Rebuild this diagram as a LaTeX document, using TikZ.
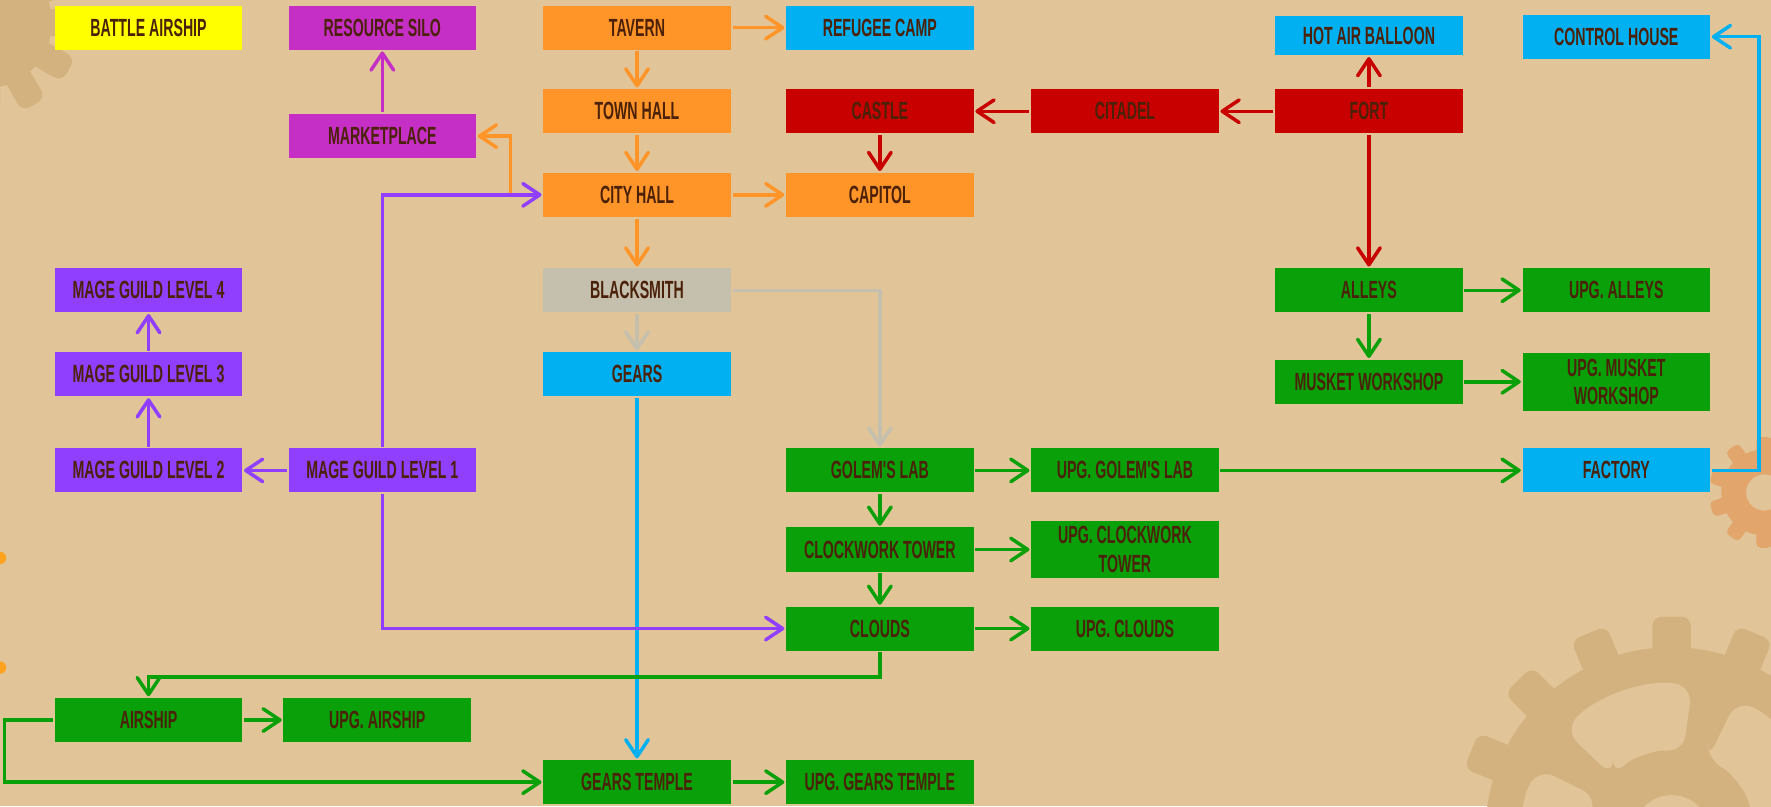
\documentclass[tikz,border=0pt]{standalone}
\usepackage{fontspec}
\newfontfamily\bldgfont{Liberation Sans}[FakeStretch=0.57]
\usetikzlibrary{arrows.meta, positioning}
\definecolor{parchment}{HTML}{E1C598}
\definecolor{gearshade}{HTML}{D3B27F}
\definecolor{gearorange}{HTML}{E2A56C}
\definecolor{dotorange}{HTML}{FFA21E}
\definecolor{bldgtext}{HTML}{4B2109}
\definecolor{yellowc}{HTML}{FFFF00}
\definecolor{magentac}{HTML}{C62FC6}
\definecolor{orangec}{HTML}{FF9428}
\definecolor{bluec}{HTML}{00B0F0}
\definecolor{redc}{HTML}{C80000}
\definecolor{grayc}{HTML}{C5BFAD}
\definecolor{purplec}{HTML}{8F3FFD}
\definecolor{greenc}{HTML}{09A00A}
\tikzset{
    techtree/.style={x=0.5pt, y=-0.5pt, line width=1.55pt,
        >={Straight Barb[length=7.5pt, width=10pt, round]}},
    bldg/.style={minimum width=83pt, minimum height=19.5pt, inner sep=1pt,
        align=center, text=bldgtext,
        font=\bldgfont\bfseries\fontsize{11}{12.5}\selectfont},
    % one style per building colour
    yellowbldg/.style={bldg, fill=yellowc},
    magentabldg/.style={bldg, fill=magentac},
    orangebldg/.style={bldg, fill=orangec},
    bluebldg/.style={bldg, fill=bluec},
    redbldg/.style={bldg, fill=redc},
    graybldg/.style={bldg, fill=grayc},
    purplebldg/.style={bldg, fill=purplec},
    greenbldg/.style={bldg, fill=greenc},
    tallbldg/.style={minimum height=25.5pt},
}

\begin{document}
\begin{tikzpicture}[techtree]
    \useasboundingbox (0,0) rectangle (1568,714);
    \fill[parchment] (0,0) rectangle (1568,714);

    % background gears
    \begin{scope}
        \clip (0,0) rectangle (1568,714);
        \begin{scope}[shift={(1480,738)}]
            \fill[gearshade] (0,0) circle (165);
            \foreach \a in {0,22.5,...,337.5}
                \fill[gearshade, rotate=\a, rounded corners=4pt] (-17,150) rectangle (17,192);
            \foreach \a in {0,72,...,288}
                \fill[parchment, rounded corners=8pt] (\a+8:72) -- (\a+8:132)
                    arc[start angle=\a+8, end angle=\a+62, radius=132]
                    -- (\a+62:72) arc[start angle=\a+62, end angle=\a+8, radius=72] -- cycle;
            \fill[parchment] (0,0) circle (34);
        \end{scope}
        \begin{scope}[shift={(-12,20)}]
            \fill[gearshade] (0,0) circle (58);
            \foreach \a in {0,30,...,330}
                \fill[gearshade, rotate=\a, rounded corners=4pt] (-12,50) rectangle (12,84);
        \end{scope}
        \begin{scope}[shift={(1562,436)}]
            \fill[gearorange] (0,0) circle (38);
            \foreach \a in {0,36,...,324}
                \fill[gearorange, rotate=\a, rounded corners=2pt] (-7,32) rectangle (7,49);
            \fill[parchment] (0,0) circle (16);
        \end{scope}
        \fill[dotorange] (0,494) circle (5.5);
        \fill[dotorange] (0,591) circle (5.5);
    \end{scope}

    % buildings
    \node[yellowbldg]  (battle)    at (131.5,24.5)  {BATTLE AIRSHIP};
    \node[magentabldg] (silo)      at (338.5,24.5)  {RESOURCE SILO};
    \node[magentabldg] (market)    at (338.5,120.5) {MARKETPLACE};
    \node[orangebldg]  (tavern)    at (564,24.5)    {TAVERN};
    \node[orangebldg]  (townhall)  at (564,98.5)    {TOWN HALL};
    \node[orangebldg]  (cityhall)  at (564,172.5)   {CITY HALL};
    \node[graybldg]    (smith)     at (564,257)     {BLACKSMITH};
    \node[bluebldg]    (gears)     at (564,331.5)   {GEARS};
    \node[bluebldg]    (refugee)   at (779,24.5)    {REFUGEE CAMP};
    \node[redbldg]     (castle)    at (779,98.5)    {CASTLE};
    \node[orangebldg]  (capitol)   at (779,172.5)   {CAPITOL};
    \node[redbldg]     (citadel)   at (996,98.5)    {CITADEL};
    \node[redbldg]     (fort)      at (1212,98.5)   {FORT};
    \node[bluebldg, minimum height=17.5pt] (balloon) at (1212,31.5) {HOT AIR BALLOON};
    \node[bluebldg]    (control)   at (1431,32.5)   {CONTROL HOUSE};

    \node[purplebldg]  (mage4)     at (131.5,257)   {MAGE GUILD LEVEL 4};
    \node[purplebldg]  (mage3)     at (131.5,331.5) {MAGE GUILD LEVEL 3};
    \node[purplebldg]  (mage2)     at (131.5,416.5) {MAGE GUILD LEVEL 2};
    \node[purplebldg]  (mage1)     at (338.5,416.5) {MAGE GUILD LEVEL 1};

    \node[greenbldg]   (alleys)    at (1212,257)    {ALLEYS};
    \node[greenbldg]   (upgalleys) at (1431,257)    {UPG. ALLEYS};
    \node[greenbldg]   (musket)    at (1212,338)    {MUSKET WORKSHOP};
    \node[greenbldg, tallbldg] (upgmusket) at (1431,338) {UPG. MUSKET\\WORKSHOP};
    \node[bluebldg]    (factory)   at (1431,416.5)  {FACTORY};

    \node[greenbldg]   (golem)     at (779,416.5)   {GOLEM'S LAB};
    \node[greenbldg]   (upggolem)  at (996,416.5)   {UPG. GOLEM'S LAB};
    \node[greenbldg]   (clockwork) at (779,486.5)   {CLOCKWORK TOWER};
    \node[greenbldg, tallbldg] (upgclock) at (996,486.5) {UPG. CLOCKWORK\\TOWER};
    \node[greenbldg]   (clouds)    at (779,556.5)   {CLOUDS};
    \node[greenbldg]   (upgclouds) at (996,556.5)   {UPG. CLOUDS};

    \node[greenbldg]   (airship)   at (131.5,637.5) {AIRSHIP};
    \node[greenbldg]   (upgairship) at (334,637.5)  {UPG. AIRSHIP};
    \node[greenbldg]   (temple)    at (564,692.5)   {GEARS TEMPLE};
    \node[greenbldg]   (upgtemple) at (779,692.5)   {UPG. GEARS TEMPLE};

    \coordinate (mktjoin) at (452,172.5);

    % connectors
    \draw[->, magentac] (market) -- (silo);

    \draw[->, orangec] (tavern) -- (refugee);
    \draw[->, orangec] (tavern) -- (townhall);
    \draw[->, orangec] (townhall) -- (cityhall);
    \draw[->, orangec] (cityhall) -- (capitol);
    \draw[->, orangec] (cityhall) -- (smith);
    \draw[->, orangec] (mktjoin) |- (market);

    \draw[->, redc] (castle) -- (capitol);
    \draw[->, redc] (citadel) -- (castle);
    \draw[->, redc] (fort) -- (citadel);
    \draw[->, redc] (fort) -- (balloon);
    \draw[->, redc] (fort) -- (alleys);

    \draw[->, grayc] (smith) -- (gears);
    \draw[->, grayc] (smith) -| (golem);

    \draw[->, bluec] (gears) -- (temple);
    \draw[->, bluec] (factory.east) -- ++(42,0) |- (control.east);

    \draw[->, purplec] (mage1) -- (mage2);
    \draw[->, purplec] (mage2) -- (mage3);
    \draw[->, purplec] (mage3) -- (mage4);
    \draw[->, purplec] (mage1) |- (cityhall);
    \draw[->, purplec] (mage1) |- (clouds);

    \draw[->, greenc] (alleys) -- (upgalleys);
    \draw[->, greenc] (alleys) -- (musket);
    \draw[->, greenc] (musket) -- (upgmusket);
    \draw[->, greenc] (golem) -- (upggolem);
    \draw[->, greenc] (golem) -- (clockwork);
    \draw[->, greenc] (clockwork) -- (upgclock);
    \draw[->, greenc] (clockwork) -- (clouds);
    \draw[->, greenc] (clouds) -- (upgclouds);
    \draw[->, greenc] (upggolem) -- (factory);
    \draw[->, greenc] (clouds.south) -- ++(0,22) -| (airship.north);
    \draw[->, greenc] (airship) -- (upgairship);
    \draw[->, greenc] (airship.west) -- ++(-43,0) |- (temple.west);
    \draw[->, greenc] (temple) -- (upgtemple);
\end{tikzpicture}
\end{document}
